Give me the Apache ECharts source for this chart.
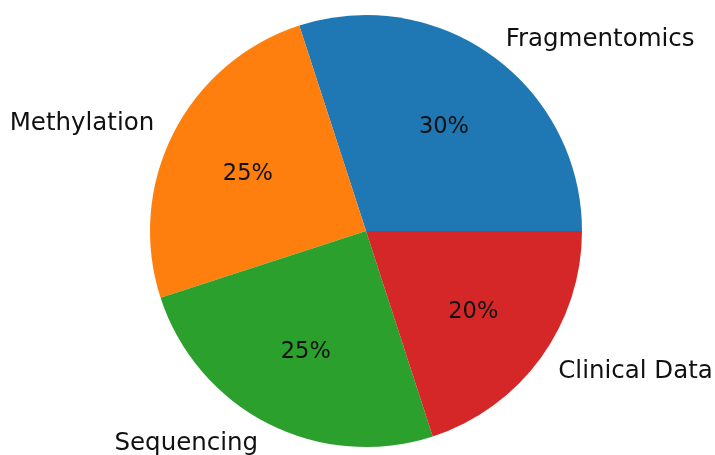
<!DOCTYPE html>
<html>
<head>
<meta charset="utf-8">
<script src="https://cdn.jsdelivr.net/npm/echarts@6/dist/echarts.min.js"></script>
<style>
  html, body { margin: 0; padding: 0; background: #ffffff; }
  #chart { width: 715px; height: 455px; }
</style>
</head>
<body>
<div id="chart"></div>
<script>
// Share of each data source
const categories = ['Fragmentomics', 'Methylation', 'Sequencing', 'Clinical Data'];
const shares = [30, 25, 25, 20];
const colors = ['#1f77b4', '#ff7f0e', '#2ca02c', '#d62728'];

const R = 216;            // pie radius in px
const CENTER = [366, 231];
const FONT = 'DejaVu Sans';

const sliceData = categories.map((name, i) => ({
  name: name,
  value: shares[i],
  itemStyle: { color: colors[i] }
}));

const chart = echarts.init(document.getElementById('chart'), null, { renderer: 'canvas' });

chart.setOption({
  animation: false,
  backgroundColor: '#ffffff',
  series: [
    {
      // visible wedges with category names just outside the rim
      type: 'pie',
      center: CENTER,
      radius: R,
      startAngle: 0,
      clockwise: false,
      avoidLabelOverlap: false,
      silent: true,
      data: sliceData,
      itemStyle: { borderWidth: 0 },
      label: {
        show: true,
        position: 'outside',
        formatter: '{b}',
        fontFamily: FONT,
        fontSize: 24.5,
        color: '#111111',
        distanceToLabelLine: 0,
        offset: [0, 1]
      },
      labelLine: { show: false, length: R * 0.1, length2: 0 },
      emphasis: { disabled: true }
    },
    {
      // transparent ring used only to place the percentages at 0.6 R
      type: 'pie',
      center: CENTER,
      radius: R * 1.2,
      startAngle: 0,
      clockwise: false,
      avoidLabelOverlap: false,
      silent: true,
      z: 3,
      data: categories.map((name, i) => ({ name: name, value: shares[i] })),
      itemStyle: { color: 'rgba(0,0,0,0)', borderWidth: 0 },
      label: {
        show: true,
        position: 'inside',
        formatter: (p) => shares[p.dataIndex] + '%',
        fontFamily: FONT,
        fontSize: 22.5,
        color: '#111111',
        offset: [0, 3]
      },
      labelLine: { show: false },
      emphasis: { disabled: true }
    }
  ]
});
</script>
</body>
</html>
